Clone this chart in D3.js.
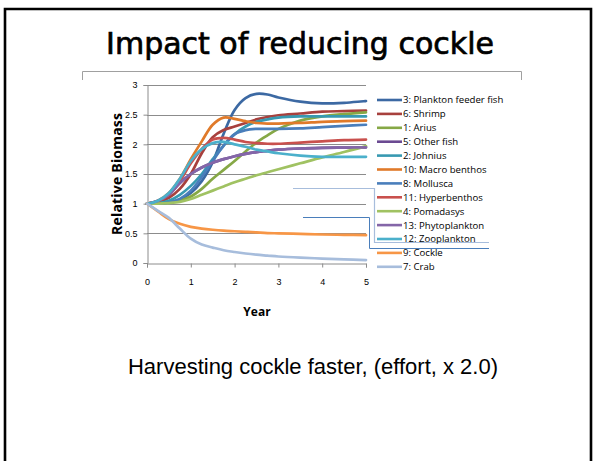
<!DOCTYPE html>
<html>
<head>
<meta charset="utf-8">
<script src="https://cdn.jsdelivr.net/npm/d3@7/dist/d3.min.js"></script>
<style>
  html, body { margin: 0; padding: 0; background: #fff; }
  svg { display: block; }
</style>
</head>
<body>
<svg id="chart" width="594" height="461"></svg>
<script>
// Simulation output: relative biomass of each group over five years
const years = [0, 0.25, 0.5, 0.75, 1, 1.25, 1.5, 1.75, 2, 2.25, 2.5, 2.75, 3, 3.5, 4, 4.5, 5];

const seriesNames = [
  "3: Plankton feeder fish", "6: Shrimp", "1: Arius", "5: Other fish", "2: Johnius",
  "10: Macro benthos", "8: Mollusca", "11: Hyperbenthos", "4: Pomadasys",
  "13: Phytoplankton", "12: Zooplankton", "9: Cockle", "7: Crab"
];

const seriesColors = [
  "#3c69a3", "#a7403d", "#86a846", "#6b4a92", "#3799b1",
  "#e07a2a", "#4a7ebb", "#c9504d", "#a0c262",
  "#8466a8", "#4bb0cb", "#f79646", "#a7bddc"
];

const plankton = [1, 1.0, 1.02, 1.07, 1.18, 1.38, 1.7, 2.18, 2.58, 2.78, 2.85, 2.84, 2.79, 2.72, 2.69, 2.70, 2.73];
const shrimp   = [1, 1.03, 1.1, 1.25, 1.5, 1.85, 2.12, 2.24, 2.3, 2.36, 2.42, 2.46, 2.49, 2.52, 2.55, 2.56, 2.57];
const arius    = [1, 1.0, 1.02, 1.05, 1.12, 1.25, 1.42, 1.57, 1.72, 1.88, 2.03, 2.15, 2.26, 2.4, 2.47, 2.51, 2.54];
const otherFish = [1, 1.05, 1.15, 1.35, 1.5, 1.61, 1.69, 1.75, 1.8, 1.84, 1.87, 1.89, 1.91, 1.93, 1.94, 1.945, 1.95];
const johnius  = [1, 1.01, 1.05, 1.15, 1.3, 1.5, 1.75, 1.98, 2.17, 2.3, 2.38, 2.42, 2.45, 2.47, 2.47, 2.47, 2.47];
const macroBenthos = [1, 1.05, 1.18, 1.42, 1.75, 2.05, 2.33, 2.45, 2.43, 2.39, 2.36, 2.35, 2.35, 2.36, 2.38, 2.39, 2.40];
const mollusca = [1, 1.0, 1.02, 1.08, 1.22, 1.45, 1.72, 1.98, 2.17, 2.24, 2.26, 2.26, 2.26, 2.27, 2.29, 2.31, 2.33];
const hyperbenthos = [1, 1.04, 1.15, 1.38, 1.68, 1.92, 2.08, 2.11, 2.08, 2.04, 2.02, 2.01, 2.01, 2.03, 2.05, 2.07, 2.08];
const pomadasys = [1, 1.0, 1.01, 1.03, 1.08, 1.15, 1.22, 1.29, 1.36, 1.42, 1.48, 1.53, 1.58, 1.68, 1.78, 1.87, 1.97];
const phytoplankton = [1, 1.05, 1.15, 1.35, 1.5, 1.61, 1.69, 1.75, 1.8, 1.84, 1.87, 1.89, 1.91, 1.93, 1.94, 1.945, 1.95];
const zooplankton = [1, 1.05, 1.18, 1.42, 1.72, 1.92, 2.02, 2.04, 2.0, 1.96, 1.91, 1.88, 1.85, 1.81, 1.79, 1.79, 1.79];
const cockle   = [1, 0.87, 0.74, 0.66, 0.61, 0.58, 0.56, 0.545, 0.535, 0.525, 0.515, 0.505, 0.5, 0.49, 0.48, 0.475, 0.47];
const crab     = [1, 0.88, 0.76, 0.58, 0.41, 0.31, 0.26, 0.215, 0.185, 0.16, 0.14, 0.125, 0.11, 0.09, 0.075, 0.06, 0.05];

const seriesValues = [plankton, shrimp, arius, otherFish, johnius, macroBenthos, mollusca,
  hyperbenthos, pomadasys, phytoplankton, zooplankton, cockle, crab];

const xTicks = [0, 1, 2, 3, 4, 5];
const yTicks = [0, 0.5, 1, 1.5, 2, 2.5, 3];

const title = "Impact of reducing cockle";
const subtitle = "Harvesting cockle faster, (effort, x 2.0)";

const svg = d3.select("#chart");

// slide frame
svg.append("path")
  .attr("d", "M5,470 V9 H591 V470")
  .attr("fill", "none").attr("stroke", "#000").attr("stroke-width", 2.6);

// title
svg.append("text")
  .attr("x", 300).attr("y", 54)
  .attr("text-anchor", "middle")
  .attr("font-family", "DejaVu Sans, sans-serif")
  .attr("font-size", 30)
  .attr("fill", "#000")
  .attr("stroke", "#000").attr("stroke-width", 0.7)
  .text(title);

// chart frame edge below the title
svg.append("path")
  .attr("d", "M82.5,80 V71.5 H521.5 V80")
  .attr("fill", "none").attr("stroke", "#a0a0a0").attr("stroke-width", 1);

// plot scales
const x = d3.scaleLinear().domain([0, 5]).range([147, 366]);
const y = d3.scaleLinear().domain([0, 3]).range([263, 85]);

const plot = svg.append("g");

// horizontal gridlines
plot.selectAll("line.grid")
  .data(yTicks.filter(d => d > 0))
  .join("line")
  .attr("class", "grid")
  .attr("x1", x(0)).attr("x2", x(5))
  .attr("y1", d => Math.round(y(d)) + 0.5).attr("y2", d => Math.round(y(d)) + 0.5)
  .attr("stroke", "#8c8c8c").attr("stroke-width", 1);

// axes
const yAxis = d3.axisLeft(y).tickValues(yTicks).tickSize(4).tickPadding(6)
  .tickFormat(d3.format("~g"));
const gy = plot.append("g").attr("transform", `translate(${x(0) + 0.5},0)`).call(yAxis);
const xAxis = d3.axisBottom(x).tickValues(xTicks).tickSize(4).tickPadding(11)
  .tickFormat(d3.format("d"));
const gx = plot.append("g").attr("transform", `translate(0,${Math.round(y(0)) + 0.5})`).call(xAxis);

[gx, gy].forEach(g => {
  g.select(".domain").attr("stroke", "#8c8c8c");
  g.selectAll(".tick line").attr("stroke", "#8c8c8c");
  g.selectAll(".tick text")
    .attr("font-family", "Liberation Sans, Arial, sans-serif")
    .attr("font-size", 9).attr("fill", "#000");
});

// axis titles
svg.append("text")
  .attr("x", 257).attr("y", 316)
  .attr("text-anchor", "middle")
  .attr("font-family", "Open Sans, sans-serif").attr("font-weight", "bold")
  .attr("font-size", 12).attr("fill", "#000")
  .text("Year");

svg.append("text")
  .attr("transform", "translate(122,174) rotate(-90)")
  .attr("text-anchor", "middle")
  .attr("font-family", "Open Sans, sans-serif").attr("font-weight", "bold")
  .attr("font-size", 14).attr("fill", "#000")
  .attr("textLength", 122).attr("lengthAdjust", "spacing")
  .text("Relative Biomass");

// series lines
const line = d3.line()
  .x((d, i) => x(years[i]))
  .y(d => y(d))
  .curve(d3.curveCatmullRom.alpha(0.5));

plot.selectAll("path.series")
  .data(seriesValues)
  .join("path")
  .attr("class", "series")
  .attr("d", d => line(d))
  .attr("fill", "none")
  .attr("stroke", (d, i) => seriesColors[i])
  .attr("stroke-width", 2.7)
  .attr("stroke-linejoin", "round").attr("stroke-linecap", "round");

// connector lines running out to the legend
svg.append("path")
  .attr("d", "M293,188.5 H374.5 V242.5 H489")
  .attr("fill", "none").attr("stroke", "#a7bddc").attr("stroke-width", 1.2);
svg.append("path")
  .attr("d", "M303,217.5 H369.5 V248.5 H489")
  .attr("fill", "none").attr("stroke", "#4a7ebb").attr("stroke-width", 1);

// legend
const legend = svg.append("g");
const rowY = i => 100 + i * 13.9;
legend.selectAll("line")
  .data(seriesNames)
  .join("line")
  .attr("x1", 377).attr("x2", 402)
  .attr("y1", (d, i) => rowY(i)).attr("y2", (d, i) => rowY(i))
  .attr("stroke", (d, i) => seriesColors[i]).attr("stroke-width", 2.6);
legend.selectAll("text")
  .data(seriesNames)
  .join("text")
  .attr("x", 403).attr("y", (d, i) => rowY(i) + 3.4)
  .attr("font-family", "Open Sans, sans-serif")
  .attr("font-size", 9.6).attr("fill", "#000")
  .text(d => d);

// caption
svg.append("text")
  .attr("x", 313).attr("y", 374)
  .attr("text-anchor", "middle")
  .attr("font-family", "Liberation Sans, Arial, sans-serif")
  .attr("font-size", 22).attr("fill", "#000")
  .text(subtitle);
</script>
</body>
</html>
